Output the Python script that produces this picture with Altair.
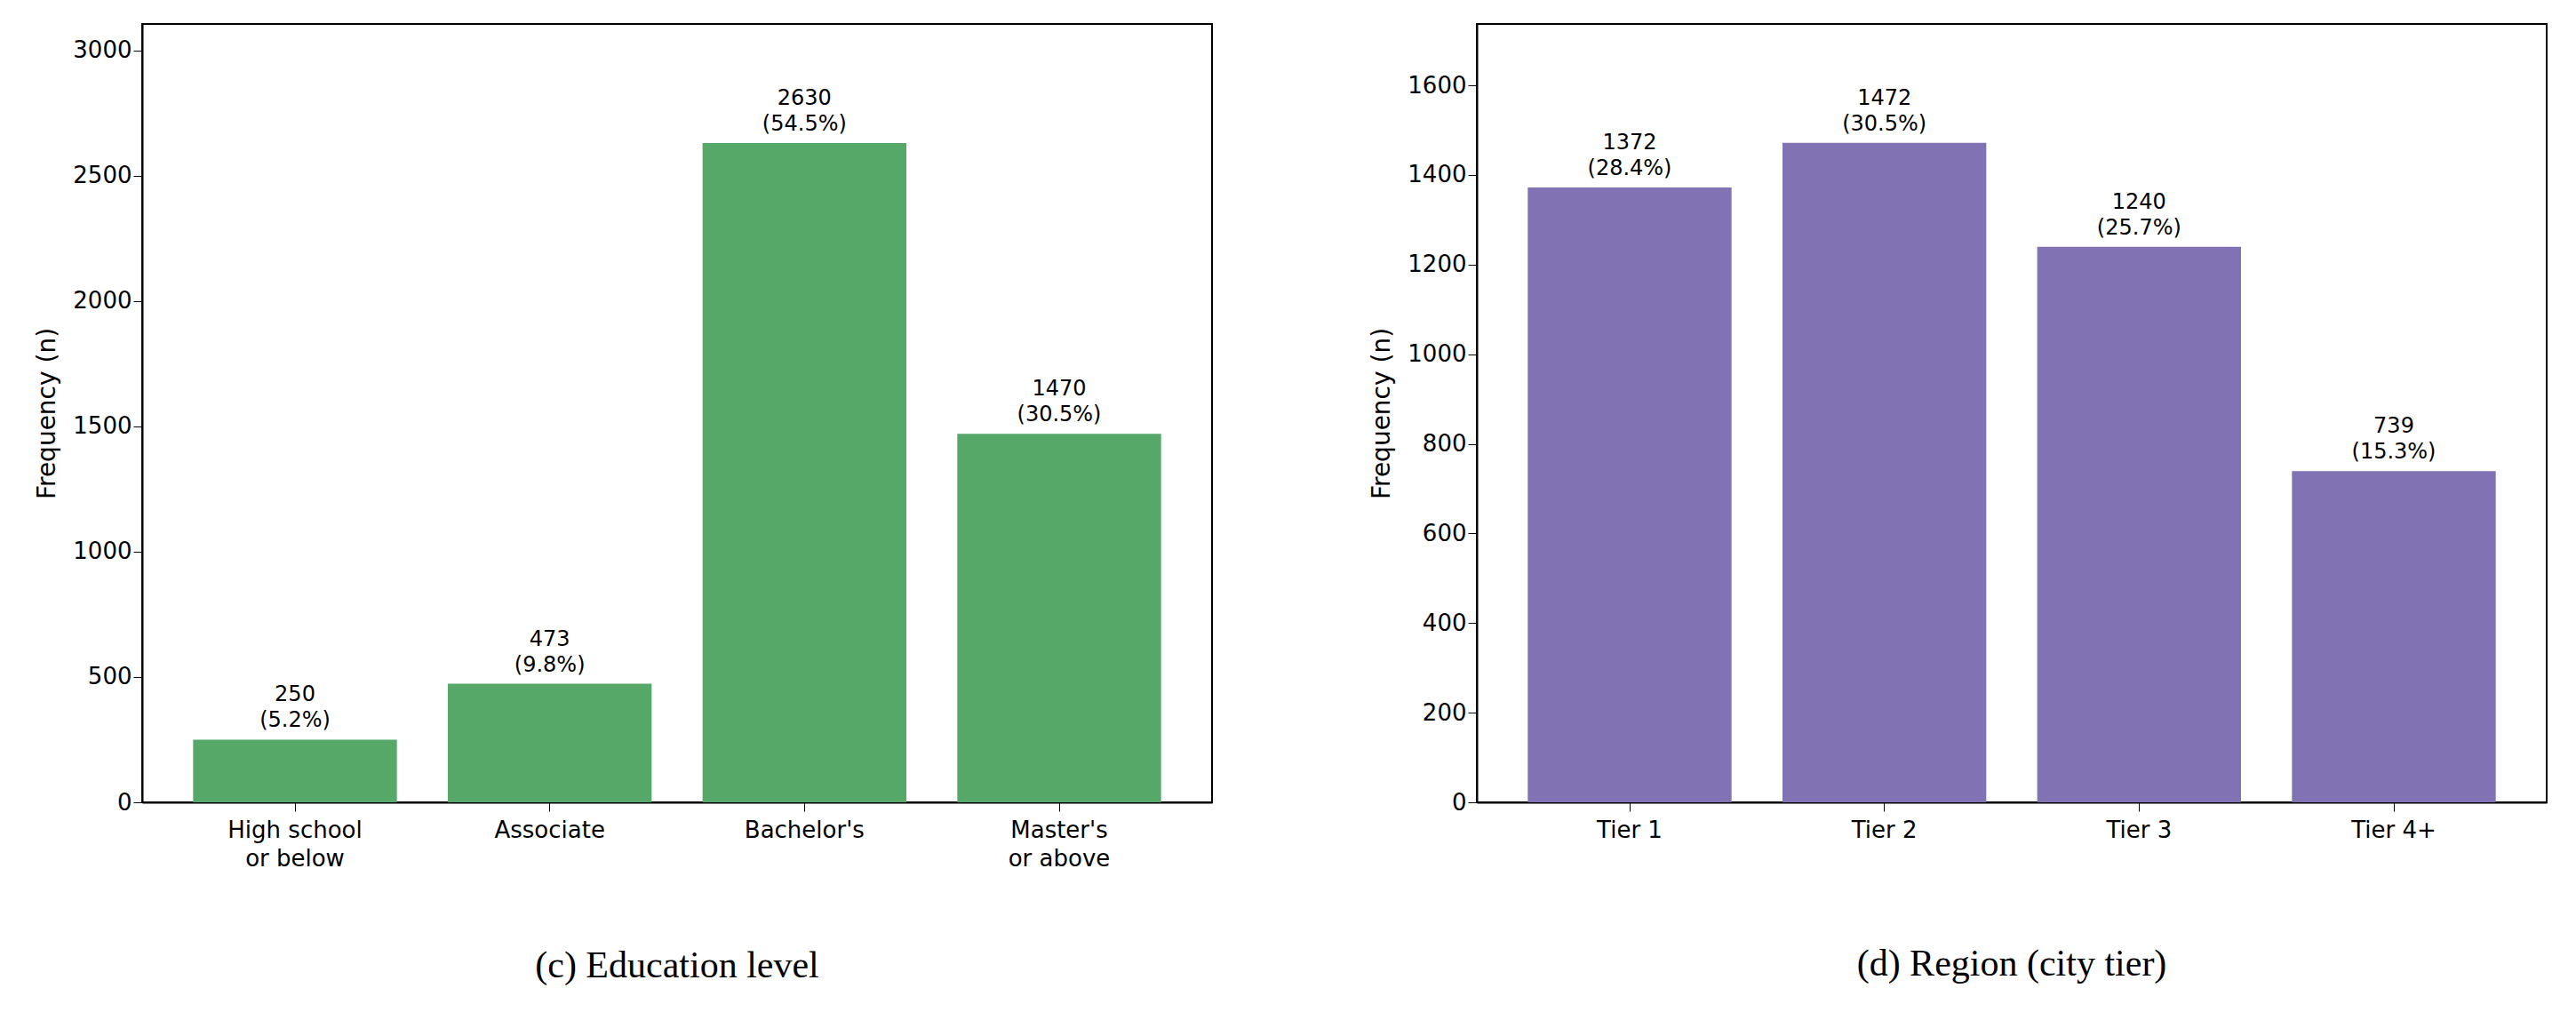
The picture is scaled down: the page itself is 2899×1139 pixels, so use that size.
import altair as alt
import pandas as pd

edu_labels = ["High school\nor below", "Associate", "Bachelor's", "Master's\nor above"]
edu_counts = [250, 473, 2630, 1470]
edu_pcts = ["5.2%", "9.8%", "54.5%", "30.5%"]

tier_labels = ["Tier 1", "Tier 2", "Tier 3", "Tier 4+"]
tier_counts = [1372, 1472, 1240, 739]
tier_pcts = ["28.4%", "30.5%", "25.7%", "15.3%"]

FONT = "DejaVu Sans"


def panel(labels, counts, pcts, color, ymax, ticks, caption, cap_offset):
    df = pd.DataFrame({
        "cat": labels,
        "n": counts,
        "txt": [f"{c}\n({p})" for c, p in zip(counts, pcts)],
    })
    x = alt.X("cat:N", sort=labels, title=None,
              scale=alt.Scale(paddingInner=0.2, paddingOuter=0.2),
              axis=alt.Axis(labelAngle=0, labelExpr="split(datum.label, '\\n')",
                            labelFontSize=26, labelColor="#000", labelFont=FONT,
                            labelLineHeight=32, labelPadding=8,
                            tickSize=10, tickColor="#000", domainColor="#000",
                            domainWidth=2))
    y = alt.Y("n:Q", title="Frequency (n)",
              scale=alt.Scale(domain=[0, ymax], nice=False),
              axis=alt.Axis(values=ticks, format="d", grid=False, labelFontSize=26,
                            labelColor="#000", labelFont=FONT, titleFont=FONT,
                            titleFontSize=28, titleFontWeight="normal",
                            titleColor="#000", titlePadding=14,
                            tickSize=10, tickColor="#000", domainColor="#000",
                            domainWidth=2))
    base = alt.Chart(df).encode(x=x, y=y)
    bars = base.mark_bar(color=color)
    text = base.mark_text(baseline="bottom", dy=-38, fontSize=24, font=FONT,
                          lineBreak="\n", lineHeight=29, color="#000").encode(text="txt:N")
    return (bars + text).properties(
        width=1204, height=876,
        title=alt.TitleParams(caption, orient="bottom", font="Liberation Serif",
                              fontSize=42, fontWeight="normal", color="#000",
                              offset=cap_offset),
    )


left = panel(edu_labels, edu_counts, edu_pcts, "#55a868", 3105,
             [0, 500, 1000, 1500, 2000, 2500, 3000], "(c) Education level", 88)
right = panel(tier_labels, tier_counts, tier_pcts, "#8172b3", 1737,
              [0, 200, 400, 600, 800, 1000, 1200, 1400, 1600],
              "(d) Region (city tier)", 118)

chart = alt.hconcat(left, right, spacing=175).configure_view(
    stroke="#000", strokeWidth=2
).properties(padding={"left": 30, "top": 18, "right": 5, "bottom": 5})

chart.save("out.html", embed_options={"renderer": "svg", "actions": False})
